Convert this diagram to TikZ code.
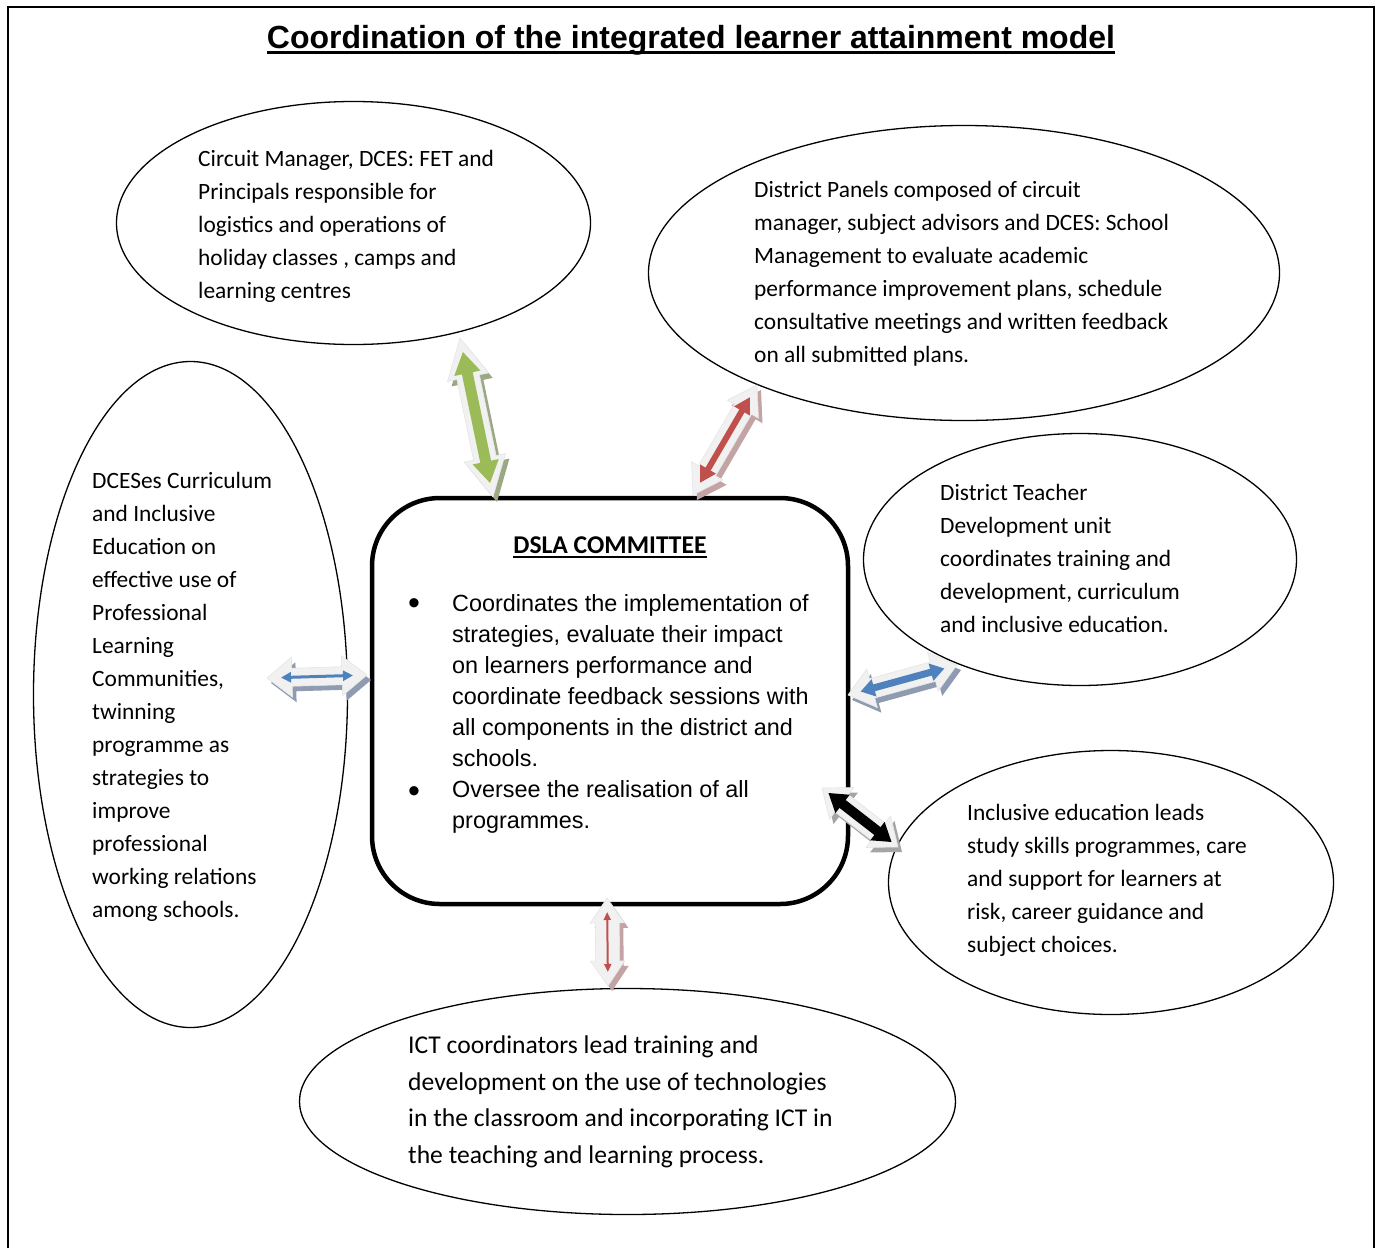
\documentclass[tikz,border=0pt]{standalone}
\usepackage{fontspec}
\setmainfont{Carlito}
\newfontfamily\arialfont{Liberation Sans}
\usetikzlibrary{shapes.geometric,calc,arrows.meta}

\definecolor{ogreen}{HTML}{9BBB59}
\definecolor{ored}{HTML}{C0504D}
\definecolor{oblue}{HTML}{4F81BD}
\definecolor{blockfill}{HTML}{F1F1F1}
\definecolor{shgreen}{HTML}{9AA884}
\definecolor{shred}{HTML}{C3A3A3}
\definecolor{shblue}{HTML}{8E9BB0}
\definecolor{shblack}{HTML}{A5A5A5}

% underline: #1 thickness, #2 depth of rule bottom below baseline, #3 text
\newcommand\myul[3]{\setbox0\hbox{#3}\rlap{\rule[-#2]{\wd0}{#1}}\box0}

\tikzset{
  bubble/.style={ellipse, draw, line width=1.3pt, inner sep=0pt},
  btext/.style={align=left, inner sep=0pt, anchor=west, font=\fontsize{23.4}{33}\selectfont},
  bulletmark/.style={inner sep=0pt, font=\arialfont\fontsize{34}{34}\selectfont},
  ginner/.style={draw=ogreen, line width=11pt, >={Triangle[length=22pt,width=25pt]}, <->},
  rinner/.style={draw=ored, fill=ored, line width=6pt, >={Triangle[length=16pt,width=17pt]}, <->},
  binner/.style={draw=oblue, line width=3pt, >={Triangle[length=10pt,width=10pt]}, <->},
  bbinner/.style={draw=oblue, line width=7pt, >={Triangle[length=14pt,width=17pt]}, <->},
  kinner/.style={draw=black, line width=10pt, >={Triangle[length=18pt,width=22pt]}, <->},
  rvinner/.style={draw=ored, line width=2pt, >={Triangle[length=8pt,width=7pt]}, <->},
}

% block double arrow outline: #1 A, #2 B, #3 shaft half width, #4 head half width, #5 head length, #6 style
\newcommand\dblblock[6]{%
  \path ($(#1)!#5!(#2)$) coordinate (bP) ($(#2)!#5!(#1)$) coordinate (bQ);
  \path[#6] (#1) -- ($(bP)!#4!90:(#2)$) -- ($(bP)!#3!90:(#2)$) -- ($(bQ)!#3!-90:(#1)$) -- ($(bQ)!#4!-90:(#1)$) -- (#2) -- ($(bQ)!#4!90:(#1)$) -- ($(bQ)!#3!90:(#1)$) -- ($(bP)!#3!-90:(#2)$) -- ($(bP)!#4!-90:(#2)$) -- cycle;
}
% #1 A, #2 B, #3 s, #4 w, #5 h, #6 shadow colour, #7 inner style, #8 inset
\newcommand\fancyarrow[8]{%
  \path ($(#1)+(4,5)$) coordinate (sA) ($(#2)+(4,5)$) coordinate (sB);
  \dblblock{sA}{sB}{#3}{#4}{#5}{fill=#6}
  \dblblock{#1}{#2}{#3}{#4}{#5}{fill=blockfill, draw=black!10, line width=0.6pt}
  \draw[#7] ($(#1)!#8!(#2)$) -- ($(#2)!#8!(#1)$);
}

\begin{document}
\begin{tikzpicture}[x=1pt,y=-1pt]
\useasboundingbox (0,0) rectangle (1378,1248);
\fill[white] (0,0) rectangle (1378,1248);

% frame
\draw[line width=2pt] (8,1248) -- (8,7) -- (1374,7) -- (1374,1248);

% title
\node[anchor=base, inner sep=0pt, font=\arialfont\bfseries\fontsize{32}{38}\selectfont] (title) at (691,48)
  {\myul{3pt}{6pt}{Coordination of the integrated learner attainment model}};

% ellipses
\node[bubble, minimum width=474pt, minimum height=243pt] (e1) at (353.5,223) {};
\node[bubble, minimum width=631pt, minimum height=295pt] (e2) at (964,273) {};
\node[bubble, minimum width=314pt, minimum height=666pt] (e3) at (190.5,694.5) {};
\node[bubble, minimum width=433pt, minimum height=252pt] (e4) at (1080,559.5) {};
\node[bubble, minimum width=445pt, minimum height=264pt] (e5) at (1111,882.5) {};
\node[bubble, minimum width=656pt, minimum height=226pt] (e6) at (627.5,1101.5) {};

% ellipse texts
\node[btext] (t1) at (198,226) {Circuit Manager, DCES: FET and\\Principals responsible for\\logistics and operations of\\holiday classes , camps and\\learning centres};
\node[btext] (t2) at (754,274) {District Panels composed of circuit\\manager, subject advisors and DCES: School\\Management to evaluate academic\\performance improvement plans, schedule\\consultative meetings and written feedback\\on all submitted plans.};
\node[btext] (t3) at (92,697) {DCESes Curriculum\\and Inclusive\\Education on\\effective use of\\Professional\\Learning\\Communities,\\twinning\\programme as\\strategies to\\improve\\professional\\working relations\\among schools.};
\node[btext] (t4) at (940,558.5) {District Teacher\\Development unit\\coordinates training and\\development, curriculum\\and inclusive education.};
\node[btext] (t5) at (967,880) {Inclusive education leads\\study skills programmes, care\\and support for learners at\\risk, career guidance and\\subject choices.};
\node[btext, font=\fontsize{25.6}{36.5}\selectfont] (t6) at (408,1102) {ICT coordinators lead training and\\development on the use of technologies\\in the classroom and incorporating ICT in\\the teaching and learning process.};

% central box
\node[draw, line width=4.5pt, rounded corners=68pt, minimum width=476pt, minimum height=406pt, inner sep=0pt] (dsla) at (610,701) {};
\node[anchor=base, inner sep=0pt, font=\bfseries\fontsize{25.6}{30}\selectfont] (head) at (610,553)
  {\myul{2pt}{5pt}{DSLA COMMITTEE}};
\node[bulletmark] (bul1) at (414,607) {•};
\node[bulletmark] (bul2) at (414,795) {•};
\node[align=left, inner sep=0pt, anchor=west, font=\arialfont\fontsize{23.4}{31}\selectfont] (btxt) at (452,714)
  {Coordinates the implementation of\\strategies, evaluate their impact\\on learners performance and\\coordinate feedback sessions with\\all components in the district and\\schools.\\Oversee the realisation of all\\programmes.};

% arrow end points
\coordinate (g1) at (460,338);
\coordinate (g2) at (493,497);
\coordinate (r1) at (757,385);
\coordinate (r2) at (693,495);
\coordinate (bl1) at (267,678);
\coordinate (bl2) at (367,675);
\coordinate (br1) at (848,695);
\coordinate (br2) at (957,665);
\coordinate (k1) at (822,788);
\coordinate (k2) at (898,847);
\coordinate (rv1) at (607,898);
\coordinate (rv2) at (608,986);

\fancyarrow{g1}{g2}{11.5pt}{21pt}{40pt}{shgreen}{ginner}{14pt}
\fancyarrow{r1}{r2}{10pt}{18pt}{28pt}{shred}{rinner}{14pt}
\fancyarrow{bl1}{bl2}{9pt}{20pt}{25pt}{shblue}{binner}{14pt}
\fancyarrow{br1}{br2}{10pt}{20pt}{25pt}{shblue}{bbinner}{13pt}
\fancyarrow{k1}{k2}{11pt}{20pt}{25pt}{shblack}{kinner}{8pt}
\fancyarrow{rv1}{rv2}{12pt}{17pt}{25pt}{shred}{rvinner}{14pt}
\end{tikzpicture}
\end{document}
